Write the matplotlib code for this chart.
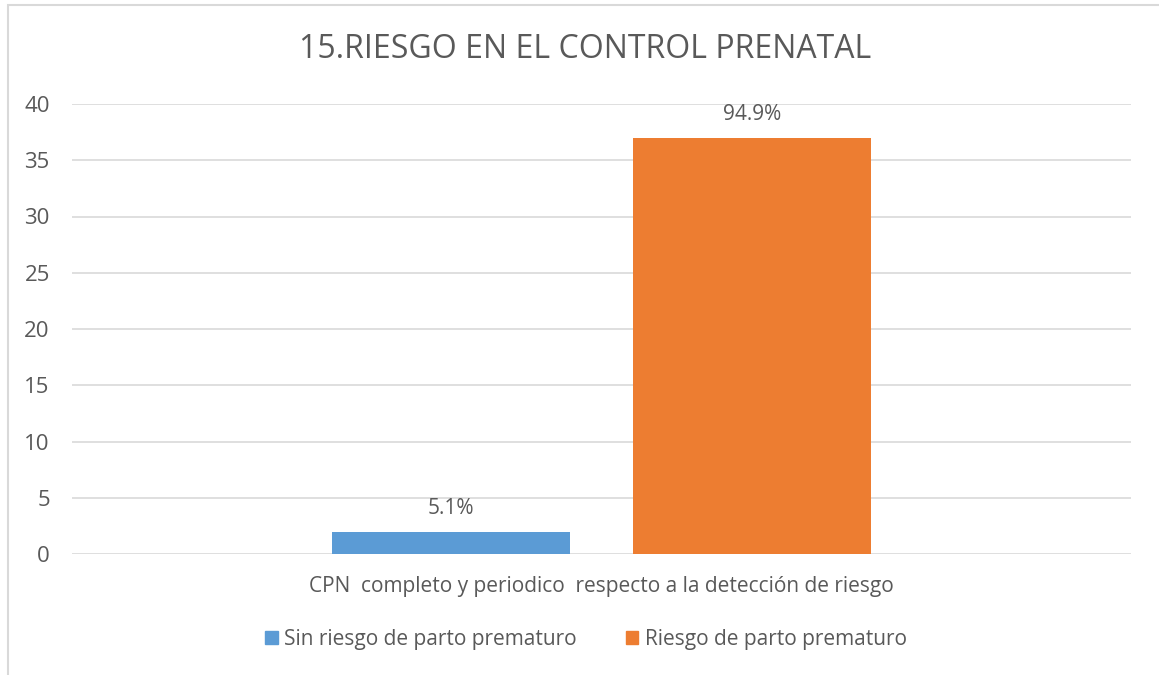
import matplotlib.pyplot as plt
from matplotlib.patches import Rectangle, Patch

# data
series_names = ["Sin riesgo de parto prematuro", "Riesgo de parto prematuro"]
series_values = [2, 37]
series_labels = ["5.1%", "94.9%"]
series_colors = ["#5B9BD5", "#ED7D31"]
category = "CPN  completo y periodico  respecto a la detección de riesgo"
yticks = [0, 5, 10, 15, 20, 25, 30, 35, 40]

plt.rcParams['font.family'] = ['Open Sans', 'DejaVu Sans']
txt = "#595959"

W, H = 1159, 675
fig = plt.figure(figsize=(W / 100, H / 100), dpi=100)

# outer chart border (runs off the right/bottom edge)
fig.patches.append(Rectangle((8 / W, -0.2), 1.2, 1.2 - 5 / H, transform=fig.transFigure,
                             fill=False, edgecolor="#D9D9D9", linewidth=1.5))

ax = fig.add_axes([72 / W, 1 - 554 / H, (1131 - 72) / W, (554 - 104) / H])

width = 0.2247
offsets = [-0.1421, 0.1421]
for name, val, lab, col, off in zip(series_names, series_values, series_labels, series_colors, offsets):
    ax.bar(off, val, width=width, color=col, label=name, zorder=3)
    ax.text(off, val + 1.1, lab, ha="center", va="bottom", fontsize=15, color=txt)

ax.set_xlim(-0.5, 0.5)
ax.set_ylim(0, 40)
ax.set_yticks(yticks)
ax.set_yticklabels([str(t) for t in yticks], fontsize=16, color=txt)
ax.tick_params(axis="y", length=0, pad=16)
ax.set_xticks([0])
ax.set_xticklabels([category], fontsize=15, color=txt)
ax.tick_params(axis="x", length=0, pad=16)
ax.yaxis.grid(True, color="#D9D9D9", linewidth=1.2, zorder=0)
for s in ax.spines.values():
    s.set_visible(False)

fig.text(585 / W, 1 - 50 / H, "15.RIESGO EN EL CONTROL PRENATAL", ha="center", va="center",
         fontsize=23, color=txt)

handles = [Patch(color=c) for c in series_colors]
fig.legend(handles, series_names, loc="center", bbox_to_anchor=(586 / W, 1 - 639 / H),
           ncol=2, frameon=False, fontsize=15, handlelength=0.6, handleheight=0.6,
           handletextpad=0.3, columnspacing=2.35, labelcolor=txt)

fig.savefig("out.png", dpi=100)
